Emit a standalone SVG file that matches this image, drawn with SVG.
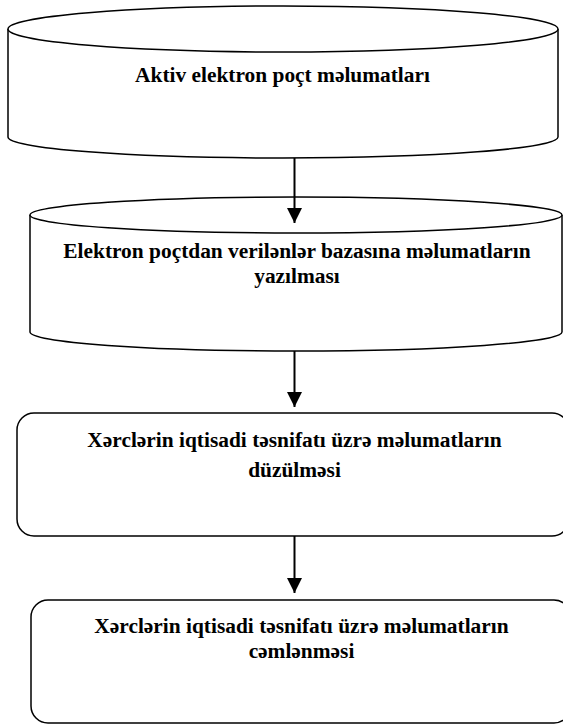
<svg xmlns="http://www.w3.org/2000/svg" width="563" height="725" viewBox="0 0 563 725">
<defs>
<style>
.shape{fill:#ffffff;stroke:#000000;stroke-width:1.5}
.conn{stroke:#000000;stroke-width:2;fill:none}
.lbl{font-family:"Liberation Serif","Times New Roman",serif;font-weight:bold;font-size:21.4px;fill:#000000;text-anchor:middle}
</style>
<marker id="ah" markerUnits="userSpaceOnUse" markerWidth="16" markerHeight="16" refX="15" refY="7.5" orient="auto">
<path d="M0,0 L15,7.5 L0,15 z" fill="#000000"/>
</marker>
</defs>
<rect width="563" height="725" fill="#ffffff"/>
<g id="node1">
<path class="shape" d="M8,29 L8,137 A275,21 0 0,0 558,137 L558,29"/>
<ellipse class="shape" cx="283" cy="29" rx="275" ry="23"/>
<text class="lbl" x="282.5" y="82">Aktiv elektron poçt məlumatları</text>
</g>
<g id="node2">
<path class="shape" d="M30,215 L30,332 A266,19 0 0,0 562,332 L562,215"/>
<ellipse class="shape" cx="296" cy="215" rx="266" ry="18"/>
<text class="lbl" x="297" y="258">Elektron poçtdan verilənlər bazasına məlumatların</text>
<text class="lbl" x="297" y="283">yazılması</text>
</g>
<g id="node3">
<rect class="shape" x="17" y="413" width="552" height="123" rx="17" ry="17"/>
<text class="lbl" x="294.5" y="447">Xərclərin iqtisadi təsnifatı üzrə məlumatların</text>
<text class="lbl" x="294.5" y="477">düzülməsi</text>
</g>
<g id="node4">
<rect class="shape" x="31" y="600" width="540" height="123" rx="17" ry="17"/>
<text class="lbl" x="301.5" y="633">Xərclərin iqtisadi təsnifatı üzrə məlumatların</text>
<text class="lbl" x="301.5" y="658">cəmlənməsi</text>
</g>
<g id="connectors">
<line class="conn" x1="294.5" y1="158" x2="294.5" y2="223" marker-end="url(#ah)"/>
<line class="conn" x1="294.5" y1="351" x2="294.5" y2="407" marker-end="url(#ah)"/>
<line class="conn" x1="294.5" y1="536" x2="294.5" y2="593" marker-end="url(#ah)"/>
</g>
</svg>
